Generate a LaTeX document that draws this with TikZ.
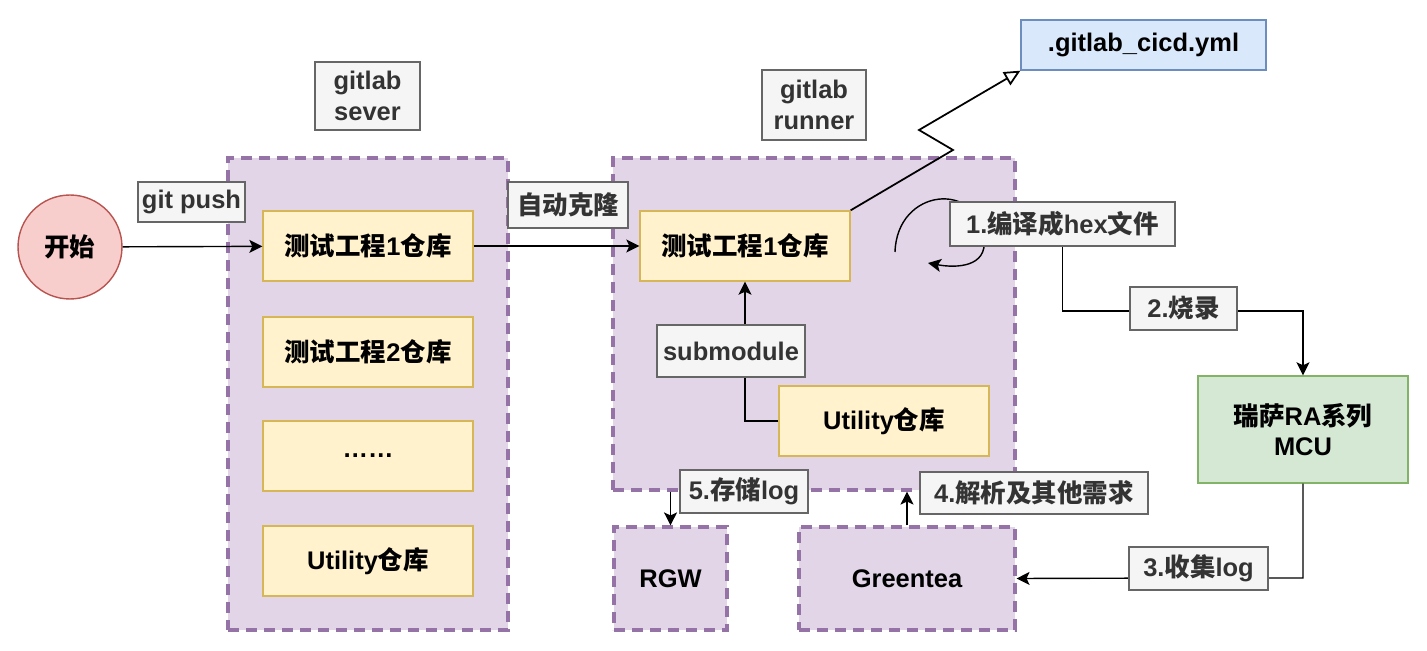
\documentclass[tikz,border=0pt]{standalone}
\usepackage{fontspec}
\setmainfont{Liberation Sans}
\newfontfamily\cjkfont{Noto Sans CJK SC}
\newfontfamily\latinfont{Liberation Sans}
% Chinese characters of the picture switch to the CJK font
\XeTeXinterchartokenstate=1
\newXeTeXintercharclass\cjkclass
\def\setcjkclass#1{\ifx#1\relax\else\XeTeXcharclass`#1=\cjkclass\expandafter\setcjkclass\fi}
\setcjkclass 开始测试工程仓库自动克隆编译成文件烧录瑞萨系列收集解析及其他需求存储\relax
\XeTeXinterchartoks 0 \cjkclass = {\cjkfont}
\XeTeXinterchartoks 4095 \cjkclass = {\cjkfont}
\XeTeXinterchartoks \cjkclass 0 = {\latinfont}
\XeTeXinterchartoks \cjkclass 4095 = {\latinfont}
\usetikzlibrary{arrows.meta,positioning}
\definecolor{contfill}{HTML}{E1D5E7}
\definecolor{contline}{HTML}{9673A6}
\definecolor{repofill}{HTML}{FFF2CC}
\definecolor{repoline}{HTML}{D6B656}
\definecolor{tagfill}{HTML}{F5F5F5}
\definecolor{tagline}{HTML}{666666}
\definecolor{tagtext}{HTML}{333333}
\definecolor{startfill}{HTML}{F8CECC}
\definecolor{startline}{HTML}{B85450}
\definecolor{ymlfill}{HTML}{DAE8FC}
\definecolor{ymlline}{HTML}{6C8EBF}
\definecolor{mcufill}{HTML}{D5E8D4}
\definecolor{mculine}{HTML}{82B366}

\begin{document}
\begin{tikzpicture}[x=0.02cm,y={(0cm,-0.02cm)},
	font=\fontsize{14.5}{17.5}\selectfont\bfseries]
	\tikzset{
		cont/.style={draw=contline, fill=contfill, line width=1.8pt, dash pattern=on 2.2mm off 1.4mm},
		repo/.style={draw=repoline, fill=repofill, line width=0.8pt, minimum width=4.2cm, minimum height=1.4cm},
		tag/.style={draw=tagline, fill=tagfill, text=tagtext, line width=0.8pt, align=center, inner sep=1pt},
		arr/.style={-{Stealth[length=2.6mm,width=2.6mm,inset=0.6mm]}, line width=0.8pt}
	}
	\useasboundingbox (0,0) rectangle (1427,651);
	% containers
	\node[cont, minimum width=5.6cm, minimum height=9.44cm] (sever) at (368,394) {};
	\node[cont, minimum width=8.04cm, minimum height=6.64cm] (runner) at (814,324) {};
	\node[cont, minimum width=2.26cm, minimum height=2.06cm] (rgw) at (670.5,578.5) {RGW};
	\node[cont, minimum width=4.32cm, minimum height=2.06cm] (green) at (907,578.5) {Greentea};
	% boxes
	\node[circle, draw=startline, fill=startfill, line width=0.8pt, minimum size=2.08cm] (start) at (70,247) {开始};
	\node[repo] (s1) at (368,246) {测试工程1仓库};
	\node[repo] (s2) at (368,352) {测试工程2仓库};
	\node[repo] (s3) at (368,456) {……};
	\node[repo] (s4) at (368,561) {Utility仓库};
	\node[repo] (r1) at (745,246) {测试工程1仓库};
	\node[repo] (util) at (884,421) {Utility仓库};
	\node[draw=ymlline, fill=ymlfill, line width=0.8pt, minimum width=4.9cm, minimum height=1cm] (yml) at (1143.5,45) {.gitlab\_cicd.yml};
	\node[draw=mculine, fill=mcufill, line width=0.8pt, minimum width=4.2cm, minimum height=2.14cm, align=center] (mcu) at (1303,429.5) {瑞萨RA系列\\MCU};
	% connectors
	\coordinate (burn) at (1183.5,311);
	\coordinate (collect) at (1198.5,578);
	\draw[arr] (start) -- (s1);
	\draw[arr] (s1) -- (r1);
	\draw[arr] (util.west) -| (r1.south);
	\draw[-{Triangle[open,length=3.2mm,width=3mm]}, line width=1pt]
		(r1.north east) -- (953,150) -- (919,130) -- (yml.south west);
	\draw[arr] (895,252) .. controls (897,188) and (978,180) .. (984,238)
		.. controls (988,268) and (955,268) .. (928,263);
	\draw[arr] (1062.5,246) |- (burn) -| (mcu.north);
	\draw[arr] (mcu.south) |- (collect) -- (green.east);
	\draw[arr] (rgw.north |- runner.south) -- (rgw.north);
	\draw[arr] (green.north) -- (green.north |- runner.south);
	% tags
	\node[tag, minimum width=2.1cm, minimum height=1.36cm] (severtag) at (367.5,96) {gitlab\\sever};
	\node[tag, minimum width=2.08cm, minimum height=1.4cm] (runnertag) at (814,105) {gitlab\\runner};
	\node[tag, minimum width=2.14cm, minimum height=0.8cm] (pushtag) at (191.5,202) {git push};
	\node[tag, minimum width=2.4cm, minimum height=0.92cm] (clonetag) at (568,205) {自动克隆};
	\node[tag, minimum width=2.96cm, minimum height=1.04cm] (subtag) at (731,351) {submodule};
	\node[tag, minimum width=4.5cm, minimum height=0.88cm] (buildtag) at (1062.5,224) {1.编译成hex文件};
	\node[tag, minimum width=2.14cm, minimum height=0.86cm] (burntag) at (1183.5,308.5) {2.烧录};
	\node[tag, minimum width=2.78cm, minimum height=0.86cm] (logtag) at (1198.5,568.5) {3.收集log};
	\node[tag, minimum width=4.56cm, minimum height=0.84cm] (parsetag) at (1034,493) {4.解析及其他需求};
	\node[tag, minimum width=2.56cm, minimum height=0.86cm] (savetag) at (744,491.5) {5.存储log};
\end{tikzpicture}
\end{document}
